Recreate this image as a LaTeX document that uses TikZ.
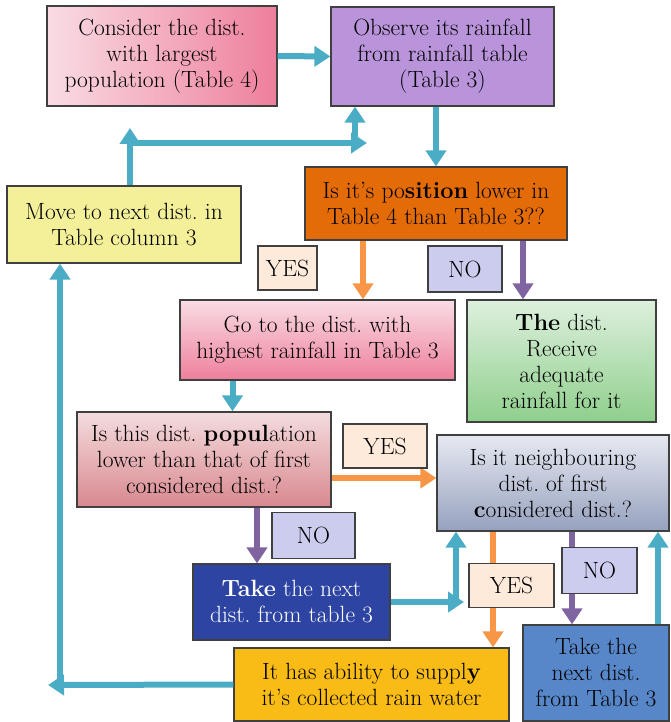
\documentclass[tikz,border=0pt]{standalone}
\usepackage{tikz}
\usepackage{xcolor}
\usetikzlibrary{arrows.meta}
\frenchspacing

\definecolor{boxline}{HTML}{404040}
\definecolor{flowteal}{HTML}{4BACC6}
\definecolor{yesorange}{HTML}{F79646}
\definecolor{nopurple}{HTML}{8064A2}
\definecolor{yesfill}{HTML}{FDEADA}
\definecolor{nofill}{HTML}{CCCCEE}
\definecolor{pinklight}{HTML}{F9DCE4}
\definecolor{pinkdeep}{HTML}{EE7F9B}
\definecolor{lilac}{HTML}{B994DA}
\definecolor{rust}{HTML}{E36C09}
\definecolor{lemon}{HTML}{F4F09A}
\definecolor{greenlight}{HTML}{DDF0DD}
\definecolor{greendeep}{HTML}{8FCF8C}
\definecolor{roselight}{HTML}{F4DCDE}
\definecolor{rosedeep}{HTML}{D8888F}
\definecolor{slatelight}{HTML}{E6E9F1}
\definecolor{slatedeep}{HTML}{96A1BE}
\definecolor{navy}{HTML}{2E44A2}
\definecolor{steel}{HTML}{5787C8}
\definecolor{gold}{HTML}{F9BC17}

\tikzset{
  box/.style={draw=boxline,line width=1.2pt,inner sep=1pt,align=center,
    font=\fontsize{23.5}{26}\selectfont},
  yestag/.style={box,fill=yesfill,minimum height=44pt},
  notag/.style={box,fill=nofill,minimum height=46pt},
  flow/.style={draw=flowteal,line width=6pt,-{Triangle[width=20pt,length=16pt]}},
  yesflow/.style={flow,draw=yesorange},
  noflow/.style={flow,draw=nopurple}
}

\begin{document}
\begin{tikzpicture}[x=1pt,y=-1pt]
\useasboundingbox (0,0) rectangle (671,722);

% process boxes
\node[box,left color=pinklight,right color=pinkdeep,minimum width=230pt,minimum height=100pt] (start) at (162,56) {Consider the dist.\\with largest\\population (Table 4)};
\node[box,fill=lilac,minimum width=223pt,minimum height=99pt] (observe) at (442.5,56.5) {Observe its rainfall\\from rainfall table\\(Table 3)};
\node[box,fill=rust,minimum width=262pt,minimum height=73pt] (position) at (436,203.5) {Is it’s po\textbf{sition} lower in\\Table 4 than Table 3??};
\node[box,fill=lemon,minimum width=234pt,minimum height=77pt] (move) at (124,224.5) {Move to next dist. in\\Table column 3};
\node[box,top color=pinklight,bottom color=pinkdeep,minimum width=275pt,minimum height=80pt] (highest) at (317.5,340) {Go to the dist. with\\highest rainfall in Table 3};
\node[box,top color=greenlight,bottom color=greendeep,minimum width=189pt,minimum height=122pt] (adequate) at (561.5,361) {\textbf{The} dist.\\Receive\\adequate\\rainfall for it};
\node[box,top color=roselight,bottom color=rosedeep,minimum width=254pt,minimum height=95pt] (lower) at (204,459.5) {Is this dist. \textbf{popul}ation\\lower than that of first\\considered dist.?};
\node[box,top color=slatelight,bottom color=slatedeep,minimum width=232pt,minimum height=96pt] (neighbour) at (553,483) {Is it neighbouring\\dist. of first\\\textbf{c}onsidered dist.?};
\node[box,fill=navy,text=white,minimum width=197pt,minimum height=76pt] (takeA) at (291.5,602) {\textbf{Take} the next\\dist. from table 3};
\node[box,fill=steel,minimum width=146pt,minimum height=96pt] (takeB) at (596,673) {Take the\\next dist.\\from Table 3};
\node[box,fill=gold,minimum width=275pt,minimum height=73pt] (supply) at (371.5,684.5) {It has ability to suppl\textbf{y}\\it’s collected rain water};

% bends of the return lines
\coordinate (loopA) at (130,128);
\coordinate (loopB) at (128,143);
\coordinate (loopC) at (367,143);
\coordinate (loopD) at (355,143);
\coordinate (joinA) at (464,602);
\coordinate (joinB) at (456,602);
\coordinate (backA) at (48,685);
\coordinate (backB) at (60,685);

% main flow
\draw[flow] (start.east) -- (observe.west);
\draw[flow] (observe.south -| position.north) -- (position.north);
\draw[yesflow] ([xshift=-73pt]position.south) -- ([xshift=-73pt]position.south |- highest.north);
\draw[noflow] ([xshift=87pt]position.south) -- ([xshift=87pt]position.south |- adequate.north);
\draw[flow] ([xshift=-85pt]highest.south) -- ([xshift=-85pt]highest.south |- lower.north);
\draw[yesflow] ([yshift=-18.5pt]lower.east) -- ([yshift=-18.5pt]lower.east -| neighbour.west);
\draw[noflow] ([xshift=53pt]lower.south) -- ([xshift=53pt]lower.south |- takeA.north);
\draw[yesflow] ([xshift=-60pt]neighbour.south) -- ([xshift=-60pt]neighbour.south |- supply.north);
\draw[noflow] ([xshift=19pt]neighbour.south) -- ([xshift=19pt]neighbour.south |- takeB.north);

% return lines
\draw[flow] ([xshift=6pt]move.north) -- (loopA);
\draw[flow] (loopB) -- (loopC);
\draw[flow] (loopD) -- (loopD |- observe.south);
\draw[flow] (takeA.east) -- (joinA);
\draw[flow] (joinB) -- (joinB |- neighbour.south);
\draw[flow] ([xshift=62pt]takeB.north) -- ([xshift=62pt]takeB.north |- neighbour.south);
\draw[flow] (supply.west) -- (backA);
\draw[flow] (backB) -- (backB |- move.south);

% answer tags, on top of the arrows
\node[yestag,minimum width=59pt] (yesA) at (287.5,268) {YES};
\node[notag,minimum width=74pt] (noA) at (465,269) {NO};
\node[yestag,minimum width=84pt] (yesB) at (385,446) {YES};
\node[notag,minimum width=83pt] (noB) at (313.5,535.5) {NO};
\node[yestag,minimum width=85pt] (yesC) at (511.5,585.5) {YES};
\node[notag,minimum width=75pt] (noC) at (599.5,570.5) {NO};
\end{tikzpicture}
\end{document}
